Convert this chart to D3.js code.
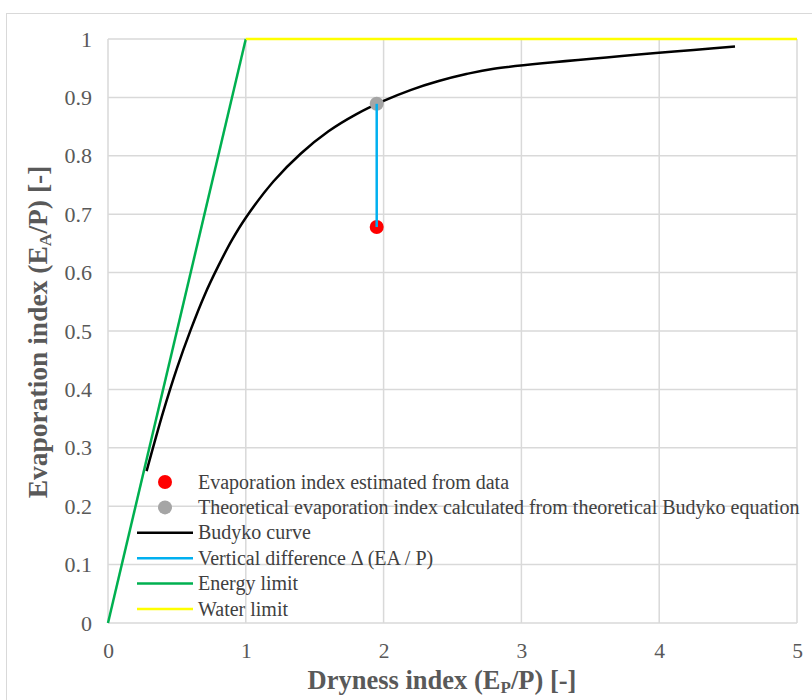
<!DOCTYPE html>
<html><head><meta charset="utf-8">
<script src="https://cdn.jsdelivr.net/npm/d3@7"></script>
<style>body{margin:0;background:#fff;} svg{display:block;} text{font-family:"Liberation Serif","Times New Roman",serif;}</style>
</head><body>
<script>
// Data
const xTicks = [0, 1, 2, 3, 4, 5];
const yTicks = [0, 0.1, 0.2, 0.3, 0.4, 0.5, 0.6, 0.7, 0.8, 0.9, 1];
const xTickLabels = ["0", "1", "2", "3", "4", "5"];
const yTickLabels = ["0", "0.1", "0.2", "0.3", "0.4", "0.5", "0.6", "0.7", "0.8", "0.9", "1"];
const budykoX = [0.28, 0.4, 0.5, 0.6, 0.7, 0.8, 0.9, 1.0, 1.2, 1.4, 1.6, 1.8, 2.0, 2.2, 2.4, 2.6, 2.8, 4.55];
const budykoY = [0.26, 0.361, 0.436, 0.502, 0.561, 0.611, 0.656, 0.694, 0.756, 0.804, 0.842, 0.871, 0.894, 0.913, 0.928, 0.940, 0.949, 0.987];
const energyX = [0, 1];
const energyY = [0, 1];
const waterX = [1, 5];
const waterY = [1, 1];
const dataPointX = [1.95];
const dataPointY = [0.678];
const theoPointX = [1.95];
const theoPointY = [0.889];
const legendLabels = [
  "Evaporation index estimated from data",
  "Theoretical evaporation index calculated from theoretical Budyko equation",
  "Budyko curve",
  "Vertical difference  \u0394 (EA / P)",
  "Energy limit",
  "Water limit"
];
const legendKinds = ["dot", "dot", "line", "line", "line", "line"];
const legendColors = ["#ff0000", "#a5a5a5", "#000000", "#00b0f0", "#00b050", "#ffff00"];

const W = 812, H = 700;
const svg = d3.select("body").append("svg").attr("width", W).attr("height", H);
const serif = "Liberation Serif, Times New Roman, serif";

// outer frame
svg.append("rect").attr("x", 6.5).attr("y", 13.5).attr("width", 900).attr("height", 800)
  .attr("fill", "none").attr("stroke", "#d9d9d9").attr("stroke-width", 1);

const x = d3.scaleLinear().domain([0, 5]).range([108, 797]);
const y = d3.scaleLinear().domain([0, 1]).range([623, 39]);

// gridlines
svg.append("g").selectAll("line").data(xTicks).join("line")
  .attr("x1", d => x(d)).attr("x2", d => x(d)).attr("y1", y(0)).attr("y2", y(1))
  .attr("stroke", "#d9d9d9").attr("stroke-width", 1.5);
svg.append("g").selectAll("line").data(yTicks).join("line")
  .attr("x1", x(0)).attr("x2", x(5)).attr("y1", d => y(d)).attr("y2", d => y(d))
  .attr("stroke", "#d9d9d9").attr("stroke-width", 1.5);

// axes via d3 axes
const xAxis = svg.append("g").attr("transform", `translate(0,${y(0)})`)
  .call(d3.axisBottom(x).tickValues(xTicks).tickFormat((d, i) => xTickLabels[i]).tickSize(0).tickPadding(20));
xAxis.select(".domain").remove();
xAxis.attr("font-family", null).attr("font-size", 21.5);
xAxis.selectAll("text").attr("font-family", serif).style("font-family", serif).attr("fill", "#595959");

const yAxis = svg.append("g").attr("transform", `translate(${x(0)},0)`)
  .call(d3.axisLeft(y).tickValues(yTicks).tickFormat((d, i) => yTickLabels[i]).tickSize(0).tickPadding(16));
yAxis.select(".domain").remove();
yAxis.attr("font-family", null).attr("font-size", 22);
yAxis.selectAll("text").attr("font-family", serif).style("font-family", serif).attr("fill", "#595959");

// lines
const line = d3.line().x(d => x(d[0])).y(d => y(d[1]));
svg.append("path").datum(energyX.map((v, i) => [v, energyY[i]])).attr("d", line)
  .attr("fill", "none").attr("stroke", "#00b050").attr("stroke-width", 2.5);
svg.append("path").datum(waterX.map((v, i) => [v, waterY[i]])).attr("d", line)
  .attr("fill", "none").attr("stroke", "#ffff00").attr("stroke-width", 2.5);
svg.append("path").datum(budykoX.map((v, i) => [v, budykoY[i]])).attr("d", line.curve(d3.curveCatmullRom))
  .attr("fill", "none").attr("stroke", "#000").attr("stroke-width", 2.5);

// points
svg.append("circle").attr("cx", x(theoPointX[0])).attr("cy", y(theoPointY[0])).attr("r", 7).attr("fill", "#a5a5a5");
svg.append("circle").attr("cx", x(dataPointX[0])).attr("cy", y(dataPointY[0])).attr("r", 7).attr("fill", "#ff0000");
svg.append("line").attr("x1", x(dataPointX[0])).attr("x2", x(theoPointX[0]))
  .attr("y1", y(dataPointY[0])).attr("y2", y(theoPointY[0]))
  .attr("stroke", "#00b0f0").attr("stroke-width", 2.5);

// legend
const lg = svg.append("g");
legendLabels.forEach((lab, i) => {
  const cy = 482 + i * 25.4;
  if (legendKinds[i] === "dot") {
    lg.append("circle").attr("cx", 165).attr("cy", cy).attr("r", 7).attr("fill", legendColors[i]);
  } else {
    lg.append("line").attr("x1", 137).attr("x2", 193).attr("y1", cy).attr("y2", cy)
      .attr("stroke", legendColors[i]).attr("stroke-width", 2.5);
  }
  lg.append("text").attr("x", 198).attr("y", cy + 6.5).text(lab)
    .style("font-family", serif).attr("font-size", 20).attr("fill", "#404040");
});

// axis titles
const xt = svg.append("text").attr("x", 442).attr("y", 689).attr("text-anchor", "middle")
  .style("font-family", serif).attr("font-size", 26.5).attr("font-weight", "bold").attr("fill", "#595959");
xt.append("tspan").text("Dryness index (E");
xt.append("tspan").text("P").attr("font-size", 17).attr("dy", 4);
xt.append("tspan").text("/P) [-]").attr("dy", -4);

const yt = svg.append("text").attr("transform", "translate(47,332) rotate(-90)").attr("text-anchor", "middle")
  .style("font-family", serif).attr("font-size", 27.5).attr("font-weight", "bold").attr("fill", "#595959");
yt.append("tspan").text("Evaporation index (E");
yt.append("tspan").text("A").attr("font-size", 17.5).attr("dy", 4);
yt.append("tspan").text("/P) [-]").attr("dy", -4);
</script>
</body></html>
